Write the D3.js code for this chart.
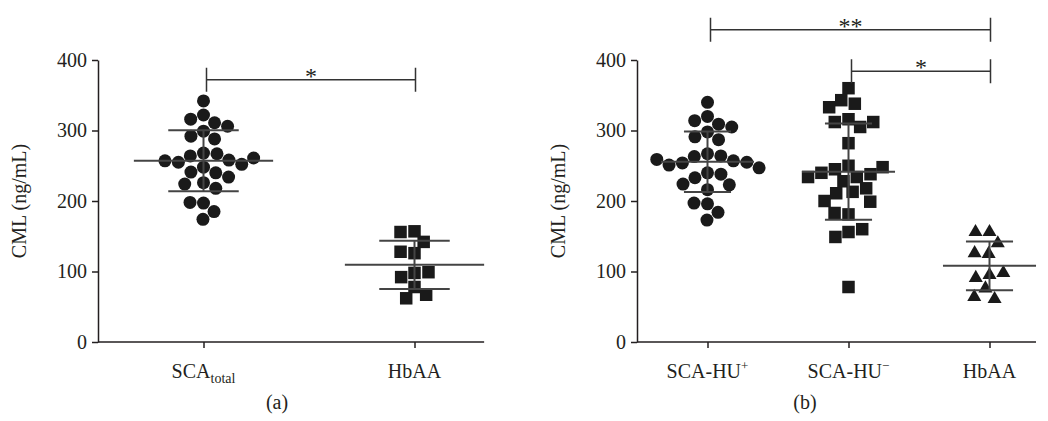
<!DOCTYPE html>
<html>
<head>
<meta charset="utf-8">
<script src="https://cdn.jsdelivr.net/npm/d3@7"></script>
<style>
  body { margin: 0; background: #fff; }
  text { font-family: "Liberation Serif", "DejaVu Serif", serif; fill: #231f20; }
</style>
</head>
<body>
<svg id="chart" width="1048" height="421"></svg>
<script>
// values (ng/mL)
var scaTotal = [342, 322, 316, 311, 306, 299, 292, 288, 268, 264, 267, 258, 255, 252, 257, 261, 248, 241, 240, 234, 226, 224, 218, 197, 198, 185, 174];
var hbaaA = [157, 156, 142, 126, 128, 98, 92, 99, 78, 62, 67];
var scaHuPos = [340, 320, 314, 309, 305, 298, 291, 287, 267, 263, 264, 257, 254, 251, 255, 259, 240, 247, 233, 238, 223, 224, 216, 196, 197, 184, 173];
var scaHuNeg = [360, 343, 338, 333, 316, 312, 305, 312, 282, 250, 245, 234, 238, 240, 248, 234, 228, 213, 211, 218, 199, 200, 181, 183, 156, 149, 160, 78];
var hbaaB = [156, 156, 140, 125, 126, 95, 91, 98, 76, 61, 64];

var yTicks = [0, 100, 200, 300, 400];
var catsA = ['SCA_total', 'HbAA'];
var catsB = ['SCA-HU+', 'SCA-HU-', 'HbAA'];

// significance brackets: [from, to, level, label]
var bracketsA = [['SCA_total', 'HbAA', 372, '*']];
var bracketsB = [['SCA-HU+', 'HbAA', 443, '**'], ['SCA-HU-', 'HbAA', 384, '*']];

var svg = d3.select('#chart');
svg.append('rect').attr('width', 1048).attr('height', 421).attr('fill', '#fff');

var y = d3.scaleLinear().domain([0, 400]).range([342, 60]);

// greedy beeswarm, returns x offsets from the category centre
function swarm(vals, dia) {
  var placed = [], out = [];
  vals.forEach(function(v, i) {
    var py = y(v), cands = [0];
    placed.forEach(function(p) {
      var dy = py - p.y;
      if (Math.abs(dy) < dia) {
        var dx = Math.sqrt(dia * dia - dy * dy);
        cands.push(p.x + dx, p.x - dx);
      }
    });
    cands.sort(function(a, b) { return Math.abs(a) - Math.abs(b) || a - b; });
    var x = cands.find(function(c) {
      return placed.every(function(p) { return (p.x - c) * (p.x - c) + (p.y - py) * (p.y - py) >= dia * dia - 0.01; });
    });
    placed.push({ x: x, y: py });
    out[i] = x;
  });
  return out;
}

function symbolFor(shape) {
  if (shape == 'circle') return d3.symbol().type(d3.symbolCircle).size(Math.PI * 6.5 * 6.5);
  if (shape == 'square') return d3.symbol().type(d3.symbolSquare).size(12.5 * 12.5);
  return d3.symbol().type(d3.symbolTriangle).size(85);
}

function catLabel(sel, c) {
  if (c == 'SCA_total') {
    sel.text('SCA');
    sel.append('tspan').attr('font-size', 14).attr('dy', 5).text('total');
  } else if (c == 'SCA-HU+' || c == 'SCA-HU-') {
    sel.text('SCA-HU');
    sel.append('tspan').attr('font-size', 13).attr('dy', -8).text(c == 'SCA-HU+' ? '+' : '\u2212');
  } else {
    sel.text(c);
  }
}

function panel(opts) {
  var g = svg.append('g');
  var step = opts.step, x0 = opts.x0, n = opts.cats.length;
  var x = d3.scalePoint().domain(opts.cats).range([x0 + 0.5 * step, x0 + (n - 0.5) * step]);
  var xEnd = x0 + (n - 0.17) * step;

  // axes
  var ya = g.append('g').attr('transform', 'translate(' + x0 + ',0)')
    .call(d3.axisLeft(y).tickValues(yTicks).tickSize(6).tickSizeOuter(0).tickPadding(5));
  ya.select('.domain').attr('stroke', '#231f20').attr('stroke-width', 1.5);
  ya.selectAll('.tick line').attr('stroke', '#231f20').attr('stroke-width', 1.5);
  ya.selectAll('.tick text').attr('font-size', 20).attr('font-family', 'Liberation Serif').attr('fill', '#231f20');

  var xa = g.append('g').attr('transform', 'translate(0,' + y(0) + ')')
    .call(d3.axisBottom(x).tickSize(6).tickSizeOuter(0).tickFormat(''));
  xa.select('.domain').attr('d', 'M' + x0 + ',0H' + xEnd).attr('stroke', '#231f20').attr('stroke-width', 1.5);
  xa.selectAll('.tick line').attr('stroke', '#231f20').attr('stroke-width', 1.5);

  opts.cats.forEach(function(c) {
    g.append('text').attr('x', x(c)).attr('y', y(0) + 36).attr('text-anchor', 'middle')
      .attr('font-size', 20).call(catLabel, c);
  });

  g.append('text').attr('transform', 'translate(' + (x0 - 72) + ',' + y(200) + ') rotate(-90)')
    .attr('text-anchor', 'middle').attr('font-size', 20).text('CML (ng/mL)');

  g.append('text').attr('x', opts.tagX).attr('y', 409).attr('text-anchor', 'middle')
    .attr('font-size', 20).text(opts.tag);

  // groups
  opts.groups.forEach(function(grp) {
    var cx = x(grp.cat);
    var offs = swarm(grp.values, grp.dia);
    g.append('g').selectAll('path').data(grp.values).enter().append('path')
      .attr('d', symbolFor(grp.shape))
      .attr('transform', function(d, i) { return 'translate(' + (cx + offs[i]) + ',' + y(d) + ')'; })
      .attr('fill', '#1a1a1a');

    var m = d3.mean(grp.values), sd = d3.deviation(grp.values);
    var lw = step * 0.33, cw = step * 0.167;
    var stat = g.append('g').attr('stroke', '#444').attr('stroke-width', 2);
    stat.append('line').attr('x1', cx - lw).attr('x2', cx + lw).attr('y1', y(m)).attr('y2', y(m));
    stat.append('line').attr('x1', cx).attr('x2', cx).attr('y1', y(m + sd)).attr('y2', y(m - sd));
    stat.append('line').attr('x1', cx - cw).attr('x2', cx + cw).attr('y1', y(m + sd)).attr('y2', y(m + sd));
    stat.append('line').attr('x1', cx - cw).attr('x2', cx + cw).attr('y1', y(m - sd)).attr('y2', y(m - sd));
  });

  // brackets
  opts.brackets.forEach(function(b) {
    var xa1 = x(b[0]) + 3, xb1 = x(b[1]) + 1, yy = y(b[2]);
    var br = g.append('g').attr('stroke', '#333').attr('stroke-width', 1.5).attr('fill', 'none');
    br.append('path').attr('d', 'M' + xa1 + ',' + (yy - 12) + 'V' + (yy + 12) + 'M' + xa1 + ',' + yy + 'H' + xb1 + 'M' + xb1 + ',' + (yy - 12) + 'V' + (yy + 12));
    g.append('text').attr('x', (xa1 + xb1) / 2).attr('y', yy + 4).attr('text-anchor', 'middle')
      .attr('font-size', 24).text(b[3]);
  });
}

panel({
  x0: 98, step: 211, cats: catsA, tag: '(a)', tagX: 277, brackets: bracketsA,
  groups: [
    { cat: 'SCA_total', values: scaTotal, shape: 'circle', dia: 13.5 },
    { cat: 'HbAA', values: hbaaA, shape: 'square', dia: 14 }
  ]
});

panel({
  x0: 637, step: 141, cats: catsB, tag: '(b)', tagX: 805, brackets: bracketsB,
  groups: [
    { cat: 'SCA-HU+', values: scaHuPos, shape: 'circle', dia: 13.5 },
    { cat: 'SCA-HU-', values: scaHuNeg, shape: 'square', dia: 14 },
    { cat: 'HbAA', values: hbaaB, shape: 'triangle', dia: 14 }
  ]
});
</script>
</body>
</html>
